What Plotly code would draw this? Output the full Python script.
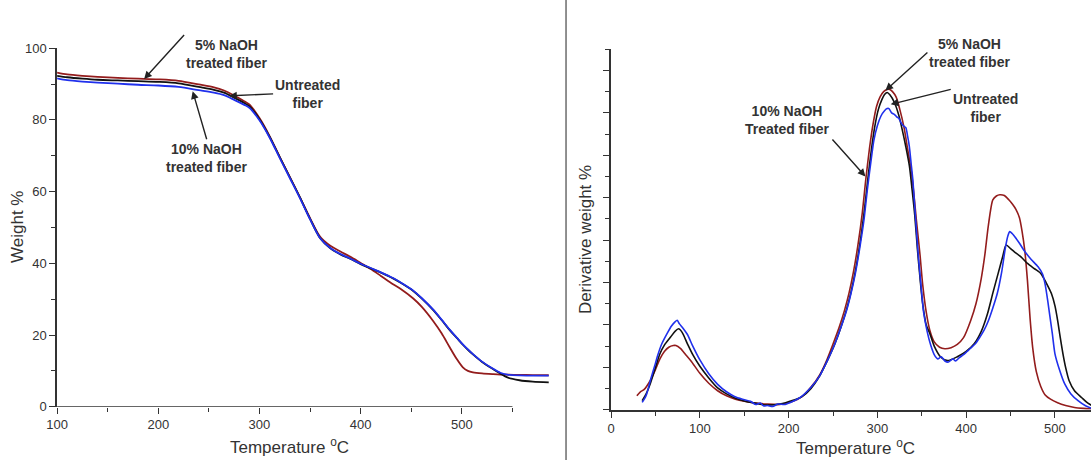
import plotly.graph_objects as go

# ---------------- TGA (left) ----------------
tga_T = [100, 110, 125, 140, 160, 180, 200, 220, 240, 255, 265, 275, 285, 290, 300, 310, 320, 330,
         340, 350, 360, 370, 380, 390, 400, 410, 420, 432, 440, 452, 460, 472, 480, 488, 495, 501,
         506, 511, 520, 531, 538, 545, 557, 570, 586]
tga_5 = [93.2, 92.7, 92.3, 92.0, 91.7, 91.5, 91.3, 90.9, 89.9, 89.1, 88.2, 86.8, 85.2, 84.3, 80.5, 75.5,
         69.7, 64.1, 58.4, 52.6, 47.4, 44.9, 43.3, 41.8, 40.1, 38.4, 36.5, 34.2, 32.8, 30.2, 28.0, 23.8,
         20.5, 16.6, 13.3, 11.0, 10.0, 9.6, 9.3, 9.1, 9.0, 8.95, 8.9, 8.85, 8.8]
tga_un = [92.3, 91.9, 91.5, 91.2, 91.0, 90.8, 90.6, 90.2, 89.2, 88.4, 87.6, 86.2, 84.7, 83.8, 80.2, 75.3,
          69.6, 64.0, 58.4, 52.4, 47.0, 44.2, 42.5, 41.2, 39.8, 38.6, 37.4, 35.8, 34.5, 32.3, 30.3, 26.9,
          24.2, 21.4, 19.2, 17.3, 15.9, 14.6, 12.5, 10.5, 9.3, 8.2, 7.4, 7.0, 6.8]
tga_10 = [91.6, 91.1, 90.7, 90.4, 90.1, 89.8, 89.6, 89.2, 88.3, 87.6, 86.9, 85.6, 84.2, 83.4, 79.9, 75.1,
          69.4, 63.8, 58.2, 52.3, 47.0, 44.3, 42.6, 41.3, 39.9, 38.7, 37.5, 35.9, 34.6, 32.4, 30.4, 27.0,
          24.3, 21.5, 19.3, 17.4, 16.0, 14.7, 12.6, 10.6, 9.5, 9.0, 8.75, 8.7, 8.7]

# ---------------- DTG (right) ----------------
dtg5_T = [29, 33, 37, 44, 50, 55, 60, 65, 70, 73, 78, 84, 90, 100, 110, 120, 130, 140, 150, 160, 175,
          190, 205, 215, 225, 235, 243, 250, 257, 263, 268, 273, 278, 283, 287, 291, 295, 299, 303, 307,
          311, 314, 317, 321, 325, 330, 334, 338, 341, 344, 348, 351, 355, 359, 364, 370, 376, 383, 390,
          397, 405, 411, 417, 421, 425, 430, 434, 438, 443, 448, 452, 456, 460, 463, 466, 469, 472, 475,
          479, 484, 489, 495, 503, 512, 522, 532, 542]
dtg5 = [0.66, 0.85, 0.95, 1.37, 1.9, 2.4, 2.75, 2.95, 3.03, 3.03, 2.9, 2.6, 2.3, 1.72, 1.25, 0.9, 0.66,
        0.5, 0.4, 0.33, 0.27, 0.25, 0.4, 0.62, 1.06, 1.65, 2.35, 3.1, 3.9, 4.7, 5.5, 6.5, 7.75, 9.3, 10.9,
        12.3, 13.45, 14.3, 14.75, 15.0, 15.1, 15.1, 15.0, 14.75, 14.2, 13.3, 12.3, 11.3, 10.2, 8.9, 7.3, 5.9,
        4.6, 3.75, 3.2, 2.95, 2.88, 2.93, 3.08, 3.4, 4.2, 5.0, 6.2, 7.3, 8.7, 9.9, 10.08, 10.14, 10.1,
        9.9, 9.7, 9.45, 9.05, 8.4, 7.5, 6.1, 4.3, 2.9, 1.8, 1.1, 0.7, 0.5, 0.33, 0.2, 0.11, 0.07, 0.05]

dtgun_T = [35, 40, 44, 50, 55, 60, 67, 72, 76, 80, 86, 92, 100, 110, 120, 130, 140, 150, 160, 176, 190,
           205, 215, 225, 235, 244, 252, 259, 265, 270, 275, 280, 285, 289, 293, 297, 301, 305, 308, 311,
           314, 319, 324, 328, 332, 336, 339, 342, 345, 348, 351, 355, 359, 364, 371, 379, 390, 400, 409,
           417, 424, 430, 436, 441, 445, 450, 454, 462, 469, 477, 484, 490, 496, 500, 503, 506, 509, 512,
           516, 522, 530, 536, 542]
dtgun = [0.43, 0.8, 1.22, 2.0, 2.64, 3.05, 3.43, 3.7, 3.82, 3.65, 3.11, 2.6, 2.05, 1.5, 1.03, 0.75, 0.55,
         0.42, 0.33, 0.22, 0.27, 0.45, 0.62, 1.0, 1.6, 2.35, 3.1, 3.9, 4.7, 5.5, 6.5, 7.75, 9.3, 10.8, 12.2,
         13.35, 14.15, 14.62, 14.86, 14.96, 14.85, 14.5, 13.9, 13.2, 12.4, 11.5, 10.4, 9.2, 7.6, 6.2, 5.0,
         4.0, 3.6, 3.0, 2.5, 2.32, 2.5, 2.75, 3.11, 3.7, 4.53, 5.5, 6.43, 7.2, 7.77, 7.6, 7.46, 7.2, 6.9,
         6.65, 6.43, 6.0, 5.48, 4.9, 4.22, 3.4, 2.64, 2.0, 1.37, 0.9, 0.58, 0.35, 0.19]

dtg10_T = [35, 38, 40, 45, 50, 52, 57, 63, 68, 72, 74.5, 77, 81, 86, 92, 100, 110, 120, 130, 139, 148, 157,
           163, 168, 172, 176, 182, 188, 195, 202, 213, 225, 235, 244, 252, 259, 265, 270, 275, 280, 285,
           289, 293, 296, 300, 304, 308, 311, 313, 316, 319, 322, 324, 326.5, 329, 332, 334, 336, 338, 340,
           343, 346, 349, 352, 356, 360, 364, 368, 372, 376, 380, 385, 388, 392, 397, 401, 405, 410, 415,
           420, 425, 430, 435, 440, 444, 447, 449, 452, 455, 460, 466, 473, 481, 486, 489, 492, 494, 497,
           500, 505, 511, 518, 526, 534, 542]
dtg10 = [0.35, 0.55, 0.74, 1.5, 2.2, 2.5, 3.1, 3.59, 3.95, 4.15, 4.22, 4.05, 3.85, 3.55, 3.0, 2.35, 1.7,
         1.2, 0.85, 0.63, 0.5, 0.4, 0.25, 0.32, 0.18, 0.2, 0.16, 0.27, 0.25, 0.35, 0.58, 1.05, 1.6, 2.35,
         3.1, 3.9, 4.65, 5.45, 6.4, 7.6, 9.0, 10.5, 11.8, 12.7, 13.4, 13.85, 14.1, 14.2, 14.2, 14.0, 13.93,
         13.8, 13.75, 13.54, 13.4, 13.3, 12.9, 12.4, 11.6, 10.8, 9.0, 7.3, 5.9, 4.6, 3.7, 3.05, 2.6, 2.4,
         2.5, 2.3, 2.25, 2.4, 2.3, 2.45, 2.6, 2.75, 2.9, 3.1, 3.4, 3.74, 4.2, 4.8, 5.48, 6.5, 7.6, 8.2, 8.4,
         8.3, 8.15, 7.85, 7.46, 7.1, 6.74, 6.4, 5.9, 5.1, 4.5, 3.6, 2.64, 1.9, 1.22, 0.75, 0.43, 0.2, 0.05]

RED = "#931c1c"
BLACK = "#111111"
BLUE = "#2030ec"
AX = "#333333"
FONT = "Liberation Sans, Arial, sans-serif"

fig = go.Figure()
fig.add_trace(go.Scatter(x=tga_T, y=tga_5, mode="lines", line=dict(color=RED, width=1.8, shape="spline", smoothing=0.8), xaxis="x", yaxis="y"))
fig.add_trace(go.Scatter(x=tga_T, y=tga_un, mode="lines", line=dict(color=BLACK, width=1.8, shape="spline", smoothing=0.8), xaxis="x", yaxis="y"))
fig.add_trace(go.Scatter(x=tga_T, y=tga_10, mode="lines", line=dict(color=BLUE, width=1.8, shape="spline", smoothing=0.8), xaxis="x", yaxis="y"))
fig.add_trace(go.Scatter(x=dtg5_T, y=dtg5, mode="lines", line=dict(color=RED, width=1.6, shape="spline", smoothing=0.7), xaxis="x2", yaxis="y2"))
fig.add_trace(go.Scatter(x=dtgun_T, y=dtgun, mode="lines", line=dict(color=BLACK, width=1.6, shape="spline", smoothing=0.7), xaxis="x2", yaxis="y2"))
fig.add_trace(go.Scatter(x=dtg10_T, y=dtg10, mode="lines", line=dict(color=BLUE, width=1.6, shape="spline", smoothing=0.6), xaxis="x2", yaxis="y2"))

W, H = 1091, 460
# observed screen placement of the figure area (calibration)
SL, SW, ST, SH = 12.0, 1078.0, 8.0, 443.0
def px(x):
    return (x - SL) / SW
def py(y):
    return 1 - (y - ST) / SH

tickfont = dict(family=FONT, size=13, color=AX)
common = dict(showgrid=False, zeroline=False, ticks="outside", ticklen=6, tickwidth=1.3,
              tickcolor=AX, linecolor=AX, linewidth=1.5, tickfont=tickfont)

fig.update_layout(
    width=W, height=H, autosize=False,
    margin=dict(l=0, r=0, t=0, b=0),
    paper_bgcolor="white", plot_bgcolor="rgba(0,0,0,0)",
    showlegend=False,
    xaxis=dict(domain=[px(58), px(58 + 486 * 1.01)], range=[100, 586], showline=False,
               dtick=100, tick0=100, anchor="y",
               minor=dict(dtick=50, tick0=100, ticks="outside", ticklen=4, tickcolor=AX, tickwidth=1.3),
               **common),
    yaxis=dict(domain=[py(406), py(49)], range=[0, 100], showline=True, dtick=20, anchor="x",
               minor=dict(dtick=10, ticks="outside", ticklen=4, tickcolor=AX, tickwidth=1.3),
               **common),
    xaxis2=dict(domain=[px(611), 1.0], range=[0, 540.6], showline=True, dtick=100, tick0=0, anchor="y2",
                minor=dict(dtick=50, ticks="outside", ticklen=4, tickcolor=AX, tickwidth=1.3),
                **common),
    yaxis2=dict(domain=[py(409), py(50)], range=[0, 17], showline=True, dtick=2, anchor="x2",
                showticklabels=False,
                minor=dict(dtick=1, ticks="outside", ticklen=4, tickcolor=AX, tickwidth=1.3),
                **common),
)

fig.add_shape(type="line", xref="x", yref="y", x0=100, x1=550, y0=0, y1=0,
              line=dict(color=AX, width=1.5))
fig.add_shape(type="line", xref="paper", yref="paper", x0=px(566), x1=px(566), y0=-0.05, y1=1.05,
              line=dict(color="#222222", width=1))

titlefont = dict(family=FONT, size=17, color=AX)
def ptxt(x, y, text, **kw):
    fig.add_annotation(x=px(x), y=py(y), xref="paper", yref="paper", text=text,
                       showarrow=False, xanchor="center", yanchor="middle", **kw)

ptxt(290, 445, "Temperature <sup>o</sup>C", font=titlefont)
ptxt(855, 446, "Temperature <sup>o</sup>C", font=titlefont)
ptxt(19, 227, "Weight %", font=titlefont, textangle=-90)
ptxt(585, 240, "Derivative weight %", font=titlefont, textangle=-90)

labfont = dict(family=FONT, size=14, color=AX)
def label(xr, yr, x, y, ax, ay, text, xa, ya):
    fig.add_annotation(x=x, y=y, xref=xr, yref=yr, text="<b>" + text + "</b>", font=labfont,
                       align="center", showarrow=True, ax=ax, ay=ay, xanchor=xa, yanchor=ya,
                       arrowhead=2, arrowsize=1.1, arrowwidth=1.4, arrowcolor="#222222")

label("x", "y", 186, 91.4, 40, -44, "5% NaOH<br>treated fiber", "left", "top")
label("x", "y", 270, 86.7, 44, -2, "Untreated<br>fiber", "left", "middle")
label("x", "y", 234, 88.0, 14, 48, "10% NaOH<br>treated fiber", "center", "top")
label("x2", "y2", 309, 15.05, 42, -38, "5% NaOH<br>treated fiber", "left", "middle")
label("x2", "y2", 315, 14.4, 60, -15, "Untreated<br>fiber", "left", "top")
label("x2", "y2", 286.5, 11.0, -33, -37, "10% NaOH<br>Treated fiber", "right", "bottom")

fig.write_html("out.html")
